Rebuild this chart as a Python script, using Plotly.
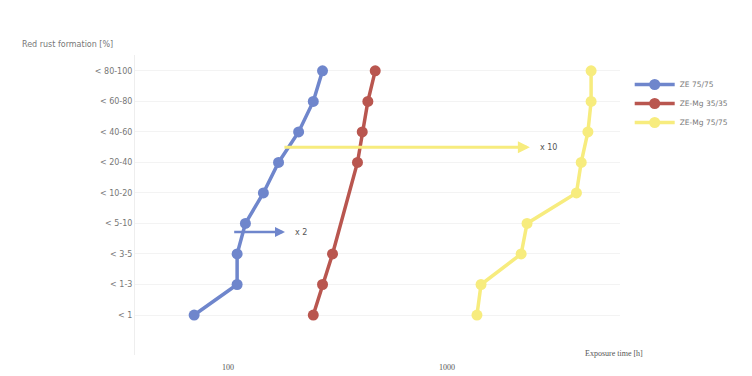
import math
import plotly.graph_objects as go

categories = ["< 1", "< 1-3", "< 3-5", "< 5-10", "< 10-20", "< 20-40", "< 40-60", "< 60-80", "< 80-100"]
series_names = ["ZE 75/75", "ZE-Mg 35/35", "ZE-Mg 75/75"]
ze_75 = [70, 110, 110, 120, 145, 170, 210, 245, 270]
ze_mg_35 = [245, 270, 300, None, None, 390, 410, 435, 470]
ze_mg_75 = [1370, 1430, 2180, 2320, 3900, 4100, 4400, 4550, 4550]
colors = ["#6f86cc", "#b9564f", "#f7ec7e"]

# factor arrows: start time, end time, level (category index), label
arrow_start = [105, 178]
arrow_end = [182, 2390]
arrow_level = [2.72, 5.5]
arrow_label = ["x 2", "x 10"]
arrow_color = ["#6f86cc", "#f7ec7e"]

W, H = 752, 376
ML, MR, MT, MB = 135, 132, 55, 21
PW, PH = W - ML - MR, H - MT - MB

fig = go.Figure()
for name, vals, c in zip(series_names, [ze_75, ze_mg_35, ze_mg_75], colors):
    fig.add_trace(go.Scatter(
        x=vals, y=categories, name=name, mode="lines+markers",
        connectgaps=True,
        line=dict(color=c, width=3.5),
        marker=dict(color=c, size=11),
    ))

for s, e, lv, lab, c in zip(arrow_start, arrow_end, arrow_level, arrow_label, arrow_color):
    fig.add_annotation(
        x=math.log10(e), y=lv, ax=math.log10(s), ay=lv,
        xref="x", yref="y", axref="x", ayref="y",
        text="", showarrow=True, arrowhead=2, arrowsize=0.8,
        arrowwidth=3 if c == "#f7ec7e" else 2.5, arrowcolor=c,
    )
    fig.add_annotation(
        x=math.log10(e), y=lv, xref="x", yref="y", text=lab,
        showarrow=False, xanchor="left", xshift=8,
        font=dict(size=8, color="#555555", family="DejaVu Sans"),
    )

fig.add_annotation(
    x=(20 - ML) / PW, y=(H - MB - 45) / PH, xref="paper", yref="paper",
    text="Red rust formation [%]", showarrow=False, xanchor="left", yanchor="middle",
    font=dict(size=8, color="#777777", family="DejaVu Sans"),
)
fig.add_annotation(
    x=(645 - ML) / PW, y=(H - MB - 353) / PH,
    xref="paper", yref="paper", text="Exposure time [h]", showarrow=False,
    xanchor="right", yanchor="middle",
    font=dict(size=8, color="#555555", family="Liberation Serif"),
)

fig.update_layout(
    width=W, height=H,
    margin=dict(l=ML, r=MR, t=MT, b=MB, autoexpand=False),
    paper_bgcolor="white", plot_bgcolor="white",
    font=dict(family="Liberation Serif", size=9, color="#666666"),
    showlegend=True,
    legend=dict(x=1.02, y=0.95, xanchor="left", yanchor="top",
                font=dict(size=7.5, color="#777777", family="DejaVu Sans"),
                itemwidth=40, tracegroupgap=2),
    xaxis=dict(type="log", range=[1.575, 3.79], tickvals=[100, 1000],
               ticktext=["100", "1000"], showgrid=False, zeroline=False,
               showline=False, ticks="", ticklabelstandoff=6, automargin=False,
               tickfont=dict(size=8, color="#555555", family="Liberation Serif")),
    yaxis=dict(type="category", categoryorder="array", categoryarray=categories,
               range=[-1.31, 8.52], showgrid=True, gridcolor="#f3f3f3",
               showline=True, linecolor="#eeeeee", ticks="", automargin=False,
               tickfont=dict(size=8, color="#777777", family="DejaVu Sans")),
)

fig.write_html("out.html")
